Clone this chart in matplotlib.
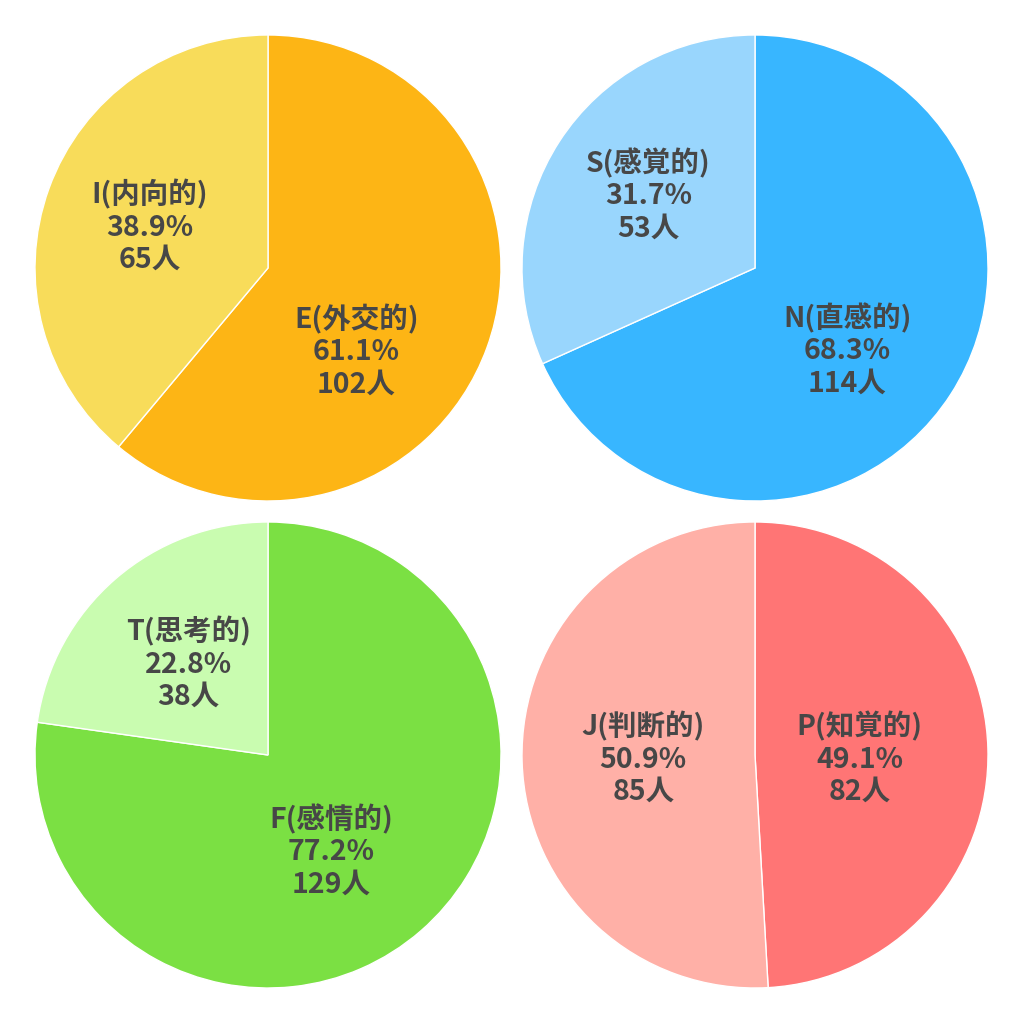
"""MBTI indicator split: four pies, one per dichotomy."""

import matplotlib
matplotlib.use("Agg")
import matplotlib.pyplot as plt

plt.rcParams["font.family"] = ["Noto Sans CJK JP", "DejaVu Sans"]

# Each pie: first slice runs clockwise from 12 o'clock
names_ei = ["E(外交的)", "I(内向的)"]
counts_ei = [102, 65]
names_sn = ["N(直感的)", "S(感覚的)"]
counts_sn = [114, 53]
names_tf = ["F(感情的)", "T(思考的)"]
counts_tf = [129, 38]
names_jp = ["P(知覚的)", "J(判断的)"]
counts_jp = [82, 85]

colors_ei = ["#FDB515", "#F8DC5A"]
colors_sn = ["#38B6FF", "#99D6FD"]
colors_tf = ["#7BE043", "#C9FCB0"]
colors_jp = ["#FF7575", "#FFB0A7"]

# small label nudges (pie radius units) to mimic the original label layout
nudges_ei = [(-0.11, -0.18), (-0.02, 0.0)]
nudges_sn = [(-0.04, -0.07), (-0.02, 0.03)]
nudges_tf = [(-0.07, -0.02), (0.0, 0.0)]
nudges_jp = [(-0.07, -0.03), (0.04, 0.0)]

TEXT_COLOR = "#474747"

# axes rectangles in figure fraction (left, bottom)
W = 466 / 1024
panels = [
    (names_ei, counts_ei, colors_ei, nudges_ei, (35 / 1024, 1 - 501 / 1024)),
    (names_sn, counts_sn, colors_sn, nudges_sn, (522 / 1024, 1 - 501 / 1024)),
    (names_tf, counts_tf, colors_tf, nudges_tf, (35 / 1024, 1 - 988 / 1024)),
    (names_jp, counts_jp, colors_jp, nudges_jp, (522 / 1024, 1 - 988 / 1024)),
]


def make_labels(names, counts):
    total = sum(counts)
    return [f"{n}\n{c / total * 100:.1f}%\n{c}人" for n, c in zip(names, counts)]


fig = plt.figure(figsize=(10.24, 10.24), dpi=100)

for names, counts, colors, nudges, (left, bottom) in panels:
    ax = fig.add_axes([left, bottom, W, W])
    wedges, texts = ax.pie(
        counts,
        labels=make_labels(names, counts),
        colors=colors,
        startangle=90,
        counterclock=False,
        labeldistance=0.52,
        wedgeprops=dict(edgecolor="white", linewidth=1),
        textprops=dict(ha="center", va="center", fontsize=20.5,
                       fontweight="bold", color=TEXT_COLOR, linespacing=1.18),
    )
    for t, (dx, dy) in zip(texts, nudges):
        x, y = t.get_position()
        t.set_position((x + dx, y + dy))
    ax.set_xlim(-1, 1)
    ax.set_ylim(-1, 1)
    ax.set_aspect("equal")
    ax.axis("off")

fig.savefig("out.png", dpi=100, facecolor="white")
